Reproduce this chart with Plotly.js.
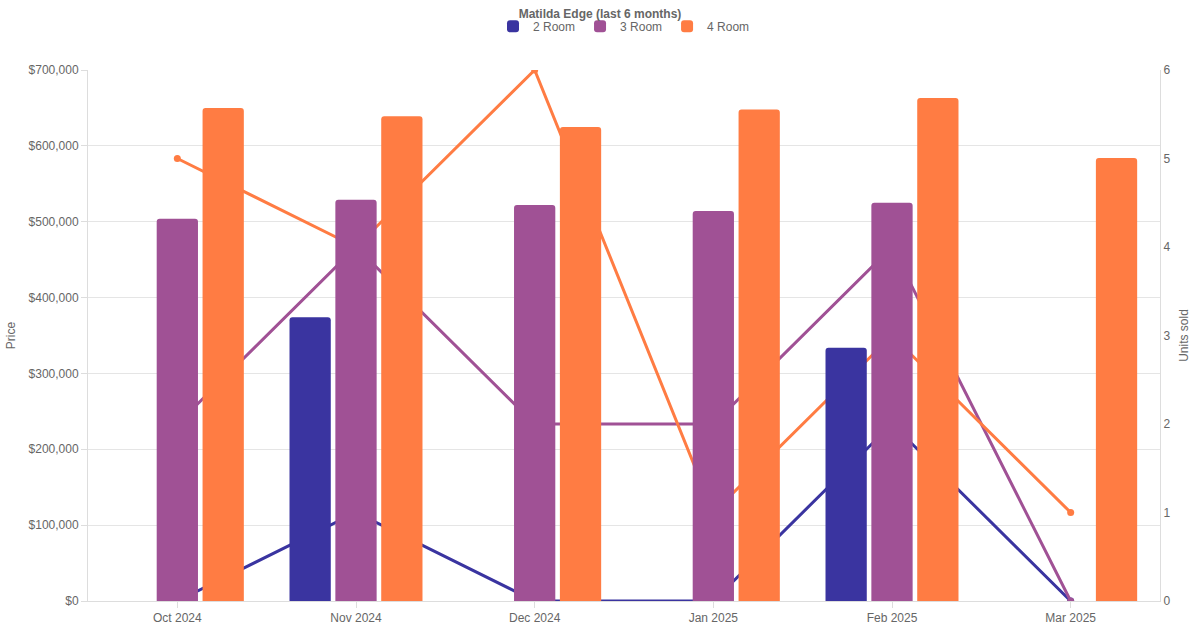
<!DOCTYPE html>
<html><head><script src="https://cdn.plot.ly/plotly-3.0.1.min.js"></script>
<style>body{margin:0}</style></head><body><div id="c" style="width:1200px;height:630px"></div>
<script>
const months=["Oct 2024","Nov 2024","Dec 2024","Jan 2025","Feb 2025","Mar 2025"];
const price2=[null,374000,null,null,334000,null];
const price3=[504000,529000,522000,514000,525000,null];
const price4=[650000,639000,625000,648000,663000,584000];
const units2=[0,1,0,0,2,0];
const units3=[2,4,2,2,4,0];
const units4=[5,4,6,1,3,1];
const names=["2 Room","3 Room","4 Room"];
const colors=["#3a34a0","#a05195","#ff7c43"];
const prices=[price2,price3,price4], units=[units2,units3,units4];
const data=[];
for(let i=0;i<3;i++){
  data.push({type:"scatter",mode:"lines+markers",x:months,y:units[i],yaxis:"y",name:names[i],showlegend:false,
    line:{color:colors[i],width:3},marker:{color:colors[i],size:7}});
}
for(let i=0;i<3;i++){
  data.push({type:"bar",x:months,y:prices[i],yaxis:"y2",name:names[i],marker:{color:colors[i],cornerradius:3}});
}
Plotly.newPlot("c",data,{
  width:1200,height:630,margin:{l:88,r:40,t:66,b:29},
  paper_bgcolor:"#fff",plot_bgcolor:"#fff",
  font:{family:"Liberation Sans, Arial, sans-serif",color:"#666",size:12},
  title:{text:"<b>Matilda Edge (last 6 months)</b>",x:0.5,y:0.985,yanchor:"top",font:{size:12,color:"#666"}},
  legend:{orientation:"h",x:0.5,xanchor:"center",y:1.055,yanchor:"bottom",font:{size:12,color:"#666"},traceorder:"normal"},
  barmode:"group",bargap:0.23,bargroupgap:0.1,
  xaxis:{showgrid:false,showline:true,linecolor:"#ddd",ticks:"outside",tickcolor:"#ddd",ticklen:6},
  yaxis:{side:"right",range:[0,6],dtick:1,showgrid:false,zeroline:false,showline:true,linecolor:"#ddd",
    title:{text:"Units sold",font:{size:12,color:"#666"},standoff:10}},
  yaxis2:{side:"left",overlaying:"y",range:[0,700000],dtick:100000,tickprefix:"$",tickformat:",",
    showgrid:true,gridcolor:"#e5e5e5",zeroline:false,showline:true,linecolor:"#ddd",ticks:"outside",tickcolor:"#ddd",ticklen:6,
    title:{text:"Price",font:{size:12,color:"#666"},standoff:10}}
},{displayModeBar:false});
</script></body></html>
